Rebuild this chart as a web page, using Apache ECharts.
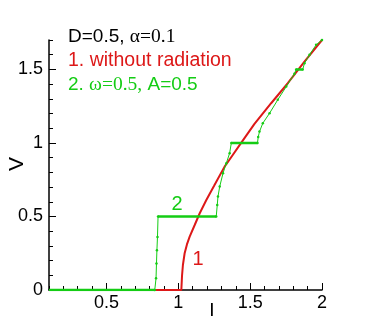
<!DOCTYPE html>
<html><head><meta charset="utf-8">
<script src="https://cdn.jsdelivr.net/npm/echarts@6/dist/echarts.min.js"></script>
<style>html,body{margin:0;padding:0;background:#fff}#c{width:368px;height:327px}</style>
</head><body><div id="c"></div>
<script>
// ---- data ----
const redI = [0.1, 1.021, 1.026, 1.032, 1.044, 1.06, 1.079, 1.114, 1.149, 1.195, 1.25, 1.322, 1.38, 1.43, 1.48, 1.53, 1.646, 1.762, 1.878, 2.0];
const redV = [0, 0, 0.1, 0.17, 0.25, 0.31, 0.363, 0.442, 0.522, 0.612, 0.71, 0.839, 0.92, 0.99, 1.06, 1.13, 1.27, 1.406, 1.553, 1.70];
const greenI = [0.1, 0.836, 0.845, 0.848, 0.851, 0.855, 0.859, 1.264, 1.271, 1.276, 1.288, 1.311, 1.334, 1.357, 1.369, 1.551, 1.556, 1.565, 1.588, 1.635, 1.692, 1.751, 1.808, 1.82, 1.866, 1.878, 1.913, 1.959, 2.0];
const greenV = [0, 0, 0.08, 0.18, 0.27, 0.36, 0.5, 0.5, 0.578, 0.635, 0.703, 0.794, 0.862, 0.93, 1.0, 1.0, 1.04, 1.077, 1.134, 1.202, 1.293, 1.383, 1.47, 1.5, 1.5, 1.542, 1.599, 1.667, 1.70];
const xTickLabels = [0.5, 1, 1.5, 2];
const yTickLabels = [0, 0.5, 1, 1.5];

const RED = '#dd1818';
const GREEN = '#14cc14';
const SANS = '"Liberation Sans", Arial, Helvetica, sans-serif';
const SERIF = '"Liberation Serif", "Times New Roman", serif';

function near(v, arr){ return arr.some(a => Math.abs(a - v) < 1e-6); }

// split green into flat (step) runs and ramp runs
const greenSeries = [];
let cur = null;
for (let i = 0; i < greenI.length - 1; i++) {
  const flat = greenV[i] === greenV[i+1];
  if (!cur || cur.flat !== flat) {
    cur = {flat: flat, pts: [[greenI[i], greenV[i]]]};
    greenSeries.push(cur);
  }
  cur.pts.push([greenI[i+1], greenV[i+1]]);
}

const series = [{
  type: 'line', data: redI.map((x, i) => [x, redV[i]]),
  showSymbol: false, lineStyle: {color: RED, width: 2}, itemStyle: {color: RED}, z: 3, animation: false
}];
greenSeries.forEach(g => {
  series.push({
    type: 'line', data: g.pts,
    showSymbol: !g.flat, symbol: 'circle', symbolSize: 2.5,
    lineStyle: {color: GREEN, width: g.flat ? 2.5 : 1}, itemStyle: {color: GREEN},
    z: 4, animation: false
  });
});

const axisLineStyle = {color: '#000', width: 1.5};
const option = {
  animation: false,
  grid: {left: 49, right: 46, top: 40, bottom: 37},
  xAxis: [{
    type: 'value', min: 0.1, max: 2, interval: 0.1,
    axisLine: {show: true, onZero: false, lineStyle: axisLineStyle},
    axisTick: {show: true, inside: true, length: 4, lineStyle: {color: '#000'}},
    axisLabel: {fontSize: 18, fontFamily: SANS, color: '#000', margin: 4,
      formatter: v => near(v, xTickLabels) ? String(Math.round(v * 10) / 10) : ''},
    splitLine: {show: false}
  }, {
    type: 'value', min: 0.1, max: 2, position: 'bottom',
    axisLine: {show: false},
    axisTick: {show: true, inside: true, length: 7, customValues: xTickLabels, lineStyle: {color: '#000'}},
    axisLabel: {show: false}, splitLine: {show: false}
  }],
  yAxis: [{
    type: 'value', min: 0, max: 1.7, interval: 0.1,
    axisLine: {show: true, onZero: false, lineStyle: axisLineStyle},
    axisTick: {show: true, inside: true, length: 4, lineStyle: {color: '#000'}},
    axisLabel: {fontSize: 18, fontFamily: SANS, color: '#000', margin: 6,
      formatter: v => near(v, yTickLabels) ? String(Math.round(v * 10) / 10) : ''},
    splitLine: {show: false}
  }, {
    type: 'value', min: 0, max: 1.7, position: 'left',
    axisLine: {show: false},
    axisTick: {show: true, inside: true, length: 7, customValues: yTickLabels, lineStyle: {color: '#000'}},
    axisLabel: {show: false}, splitLine: {show: false}
  }],
  series: series,
  graphic: [
    {type: 'text', x: 68, y: 37, style: {text: '{s|D=0.5, }{t|α=0.1}', verticalAlign: 'middle', fill: '#000',
      rich: {s: {fontFamily: SANS, fontSize: 19, fill: '#000'}, t: {fontFamily: SERIF, fontSize: 19.5, fill: '#000'}}}},
    {type: 'text', x: 68, y: 61, style: {text: '1. without radiation', verticalAlign: 'middle', fill: RED, font: '19.5px ' + SANS}},
    {type: 'text', x: 68, y: 85, style: {text: '{s|2. }{t|ω=0.5,}{s| A=0.5}', verticalAlign: 'middle', fill: GREEN,
      rich: {s: {fontFamily: SANS, fontSize: 19, fill: GREEN}, t: {fontFamily: SERIF, fontSize: 19.5, fill: GREEN}}}},
    {type: 'text', x: 177, y: 204, style: {text: '2', align: 'center', verticalAlign: 'middle', fill: GREEN, font: '20px ' + SANS}},
    {type: 'text', x: 198, y: 259, style: {text: '1', align: 'center', verticalAlign: 'middle', fill: RED, font: '20px ' + SANS}},
    {type: 'text', x: 212, y: 311, style: {text: 'I', align: 'center', verticalAlign: 'middle', fill: '#000', font: '19px ' + SANS}},
    {type: 'text', x: 17, y: 164, rotation: Math.PI / 2, style: {text: 'V', align: 'center', verticalAlign: 'middle', fill: '#000', font: '21px ' + SANS}}
  ]
};
const chart = echarts.init(document.getElementById('c'), null, {renderer: 'canvas'});
chart.setOption(option);
</script>
</body></html>
